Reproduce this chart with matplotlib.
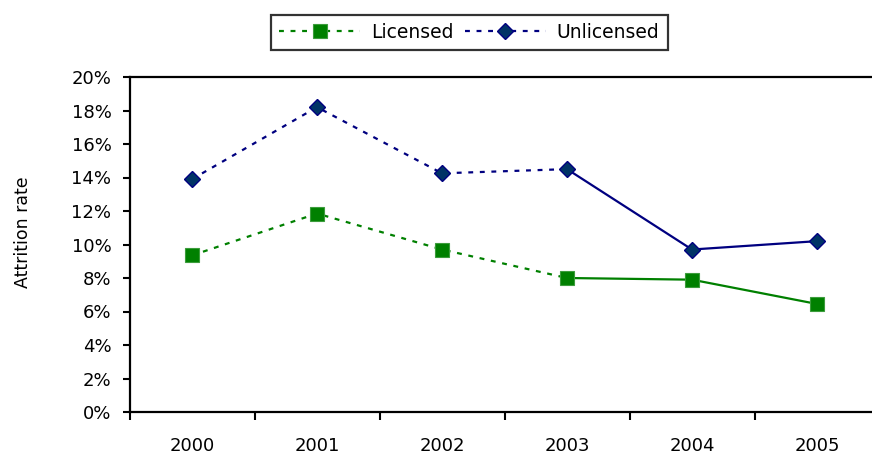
import matplotlib
matplotlib.use("Agg")
import matplotlib.pyplot as plt
import numpy as np
from matplotlib.lines import Line2D
from matplotlib.ticker import FuncFormatter

years = ["2000", "2001", "2002", "2003", "2004", "2005"]
licensed = [9.35, 11.85, 9.7, 8.0, 7.9, 6.45]     # percent
unlicensed = [13.9, 18.2, 14.25, 14.5, 9.7, 10.2]  # percent

green = "#008000"
navy = "#000080"
dotted = (0, (2.2, 3.0))

plt.rcParams["font.family"] = ["DejaVu Sans"]

fig = plt.figure(figsize=(8.72, 4.57), dpi=100)
# axis runs off the right edge of the picture, like the original crop
ax = fig.add_axes([129.5 / 872, 45 / 457, 750 / 872, 335 / 457])

x = np.arange(len(years))

# dotted part (2000-2003), solid part (2003-2005)
ax.plot(x[:4], licensed[:4], color=green, lw=1.6, linestyle=dotted)
ax.plot(x[3:], licensed[3:], color=green, lw=1.6)
ax.plot(x[:4], unlicensed[:4], color=navy, lw=1.6, linestyle=dotted)
ax.plot(x[3:], unlicensed[3:], color=navy, lw=1.6)

sq = dict(marker="s", markersize=10, markerfacecolor=green,
          markeredgecolor="#3c9c3c", markeredgewidth=0.8)
dm = dict(marker="D", markersize=8.5, markerfacecolor="#003366",
          markeredgecolor=navy, markeredgewidth=1.0)
ax.plot(x, licensed, linestyle="none", **sq)
ax.plot(x, unlicensed, linestyle="none", **dm)

ax.set_xlim(-0.5, len(years) - 0.5)
ax.set_ylim(0, 20)
ax.set_yticks(np.arange(0, 21, 2))
ax.yaxis.set_major_formatter(FuncFormatter(lambda v, p: f"{v:.0f}%"))

# category boundaries get the tick marks, labels sit in between
ax.set_xticks(np.arange(-0.5, len(years), 1.0))
ax.set_xticklabels([])
ax.set_xticks(x, minor=True)
ax.set_xticklabels(years, minor=True)
ax.tick_params(axis="x", which="major", direction="out", length=6, width=1.5)
ax.tick_params(axis="x", which="minor", length=0, pad=18, labelsize=13)
ax.tick_params(axis="y", direction="out", length=5, width=1.5, pad=8, labelsize=13)

for s in ["left", "bottom", "top"]:
    ax.spines[s].set_linewidth(1.6)
    ax.spines[s].set_color("black")
ax.spines["right"].set_visible(False)

ax.set_ylabel("Attrition rate", fontsize=12.5)
ax.yaxis.set_label_coords(-0.13, 0.537)

handles = [
    Line2D([], [], color=green, lw=1.6, linestyle=dotted, **sq),
    Line2D([], [], color=navy, lw=1.6, linestyle=dotted, **dm),
]
leg = fig.legend(handles, ["Licensed", "Unlicensed"], loc="center",
                 bbox_to_anchor=(469.5 / 872, 1 - 32.5 / 457), ncol=2,
                 frameon=True, fancybox=False, edgecolor="black",
                 fontsize=13.5, handlelength=4.3, handletextpad=0.6,
                 columnspacing=0.6, borderpad=0.45)
leg.get_frame().set_linewidth(1.6)

fig.savefig("out.png", dpi=100)
